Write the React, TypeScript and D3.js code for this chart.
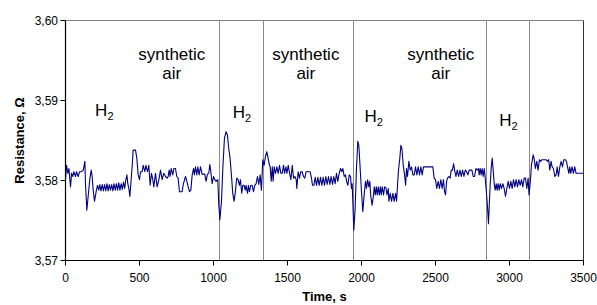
import React from "react";
import * as d3 from "d3";

const xTicks = [0, 500, 1000, 1500, 2000, 2500, 3000, 3500];
const yTicks = [3.57, 3.58, 3.59, 3.6];
const phaseBoundaries = [1038, 1336, 1942, 2840, 3135];
const airLabelTimes = [718, 1624, 2536];
const h2LabelTimes = [200, 1130, 2020, 2930];
const h2LabelBaselines = [116, 118, 122, 126];

const seriesA: [number, number][] = [
  [0, 3.5801], [7, 3.5819], [16, 3.5809], [23, 3.5815], [34, 3.5792], [41, 3.5809], [50, 3.5805], [56, 3.5811],
  [68, 3.5805], [74, 3.5811], [86, 3.5805], [95, 3.5811], [108, 3.5811], [120, 3.5813], [131, 3.5824], [135, 3.5796],
  [144, 3.5763], [153, 3.578], [165, 3.5803], [174, 3.5813], [180, 3.5805], [187, 3.5788], [196, 3.5774], [207, 3.5786],
  [216, 3.5794], [225, 3.5788], [232, 3.5795], [240, 3.5787], [248, 3.5795], [256, 3.5787], [264, 3.5795], [272, 3.5787],
  [280, 3.5796], [288, 3.5787], [296, 3.5795], [304, 3.5788], [312, 3.5795], [320, 3.5787], [328, 3.5796], [336, 3.5788],
  [344, 3.5796], [352, 3.5788], [360, 3.5797], [368, 3.5788], [376, 3.5796], [384, 3.5789], [392, 3.5798], [400, 3.579],
  [406, 3.5799], [415, 3.5807], [421, 3.5796], [428, 3.579], [435, 3.578], [445, 3.5805], [451, 3.5819], [457, 3.5838],
  [473, 3.5838], [482, 3.5828], [491, 3.5807], [500, 3.5801], [507, 3.5811], [518, 3.5811], [525, 3.5819], [536, 3.5811],
  [543, 3.5819], [554, 3.5811], [563, 3.5819], [572, 3.5794], [581, 3.5809], [590, 3.5801], [597, 3.5792], [608, 3.5809],
  [619, 3.5792], [631, 3.5801], [642, 3.5813], [653, 3.5801], [664, 3.5809], [676, 3.5805],
];

const seriesB: [number, number][] = [
  [687, 3.5803], [694, 3.5805], [700, 3.5813], [707, 3.5805], [714, 3.5815], [725, 3.5807], [732, 3.5815], [743, 3.5815],
  [752, 3.5805], [761, 3.5803], [770, 3.5786], [781, 3.5786], [788, 3.5786], [797, 3.5796], [811, 3.5805], [820, 3.5799],
  [829, 3.5792], [838, 3.5786], [847, 3.5788], [856, 3.5807], [865, 3.5815], [871, 3.5807], [878, 3.5817], [887, 3.5807],
  [894, 3.5817], [903, 3.5807], [912, 3.5817], [923, 3.5808], [932, 3.5808], [941, 3.5808], [950, 3.5799], [959, 3.5808],
  [968, 3.5809], [975, 3.582], [982, 3.5811], [991, 3.5796], [1000, 3.5805], [1009, 3.5801], [1018, 3.5799], [1029, 3.5801],
  [1036, 3.5769], [1043, 3.5751], [1054, 3.5774], [1063, 3.5815], [1074, 3.5853], [1085, 3.5861], [1094, 3.5857], [1103, 3.584],
  [1112, 3.5828], [1121, 3.5807], [1130, 3.5784], [1139, 3.5774], [1148, 3.5786], [1157, 3.5803], [1166, 3.5801], [1175, 3.5794],
  [1182, 3.5801], [1191, 3.5784], [1198, 3.5794], [1207, 3.5794], [1214, 3.5788], [1220, 3.5794], [1230, 3.5784], [1236, 3.5794],
  [1243, 3.5786], [1252, 3.5794], [1261, 3.5794], [1270, 3.5786], [1279, 3.5794], [1288, 3.5796], [1297, 3.5805], [1306, 3.5795],
  [1315, 3.5807], [1324, 3.5788], [1333, 3.5826], [1342, 3.5819], [1351, 3.583], [1360, 3.5836], [1369, 3.5828], [1378, 3.5819],
];

const seriesC: [number, number][] = [
  [1383, 3.5817], [1390, 3.5799], [1397, 3.5817], [1403, 3.5799], [1410, 3.5817], [1419, 3.5809], [1428, 3.5817], [1437, 3.5809],
  [1446, 3.5819], [1455, 3.5809], [1464, 3.5809], [1473, 3.5819], [1480, 3.5809], [1489, 3.5817], [1496, 3.5809], [1505, 3.5819],
  [1514, 3.5809], [1523, 3.5801], [1532, 3.5819], [1541, 3.5803], [1550, 3.5805], [1559, 3.5801], [1563, 3.579], [1572, 3.5811],
  [1581, 3.5803], [1590, 3.5811], [1599, 3.5811], [1608, 3.5805], [1617, 3.5803], [1626, 3.5811], [1635, 3.5811], [1644, 3.5811],
  [1653, 3.5811], [1662, 3.5803], [1669, 3.5794], [1678, 3.5794], [1687, 3.5804], [1696, 3.5794], [1705, 3.5804], [1714, 3.5794],
  [1723, 3.5804], [1732, 3.5794], [1741, 3.5804], [1750, 3.5794], [1759, 3.5805], [1768, 3.5795], [1777, 3.5805], [1786, 3.5795],
  [1795, 3.5805], [1804, 3.5795], [1813, 3.5805], [1822, 3.5796], [1831, 3.5809], [1840, 3.5799], [1849, 3.5809], [1858, 3.5815],
  [1867, 3.5811], [1874, 3.5815], [1883, 3.5805], [1892, 3.5807], [1899, 3.5799], [1908, 3.5794], [1917, 3.5807], [1926, 3.5805],
  [1932, 3.579], [1937, 3.5796], [1948, 3.5738], [1957, 3.5765], [1966, 3.5815], [1975, 3.5849], [1982, 3.5844], [1991, 3.5815],
  [2000, 3.5786], [2009, 3.5761], [2018, 3.5782], [2027, 3.5799], [2034, 3.579], [2041, 3.5801], [2050, 3.5792], [2056, 3.5799],
  [2063, 3.578], [2072, 3.5769], [2081, 3.5782],
];

const seriesD: [number, number][] = [
  [2086, 3.5792], [2093, 3.5782], [2100, 3.5792], [2106, 3.5782], [2113, 3.5792], [2120, 3.5782], [2127, 3.5792], [2133, 3.5782],
  [2140, 3.5792], [2149, 3.5782], [2156, 3.5792], [2165, 3.5791], [2172, 3.5782], [2181, 3.579], [2185, 3.5774], [2194, 3.5784],
  [2203, 3.5774], [2212, 3.5784], [2221, 3.5774], [2230, 3.5784], [2237, 3.5774], [2244, 3.5796], [2250, 3.5813], [2259, 3.5828],
  [2266, 3.5844], [2273, 3.584], [2282, 3.5819], [2291, 3.5807], [2298, 3.5794], [2304, 3.5815], [2311, 3.5805], [2320, 3.5824],
  [2329, 3.5813], [2338, 3.5817], [2347, 3.5807], [2356, 3.5807], [2365, 3.5817], [2374, 3.5807], [2383, 3.5817], [2392, 3.5807],
  [2401, 3.5817], [2410, 3.5807], [2419, 3.5817], [2428, 3.5817], [2437, 3.5817], [2446, 3.5817], [2455, 3.5817], [2464, 3.5817],
  [2473, 3.5817], [2482, 3.5817], [2491, 3.5803], [2500, 3.5801], [2509, 3.579], [2518, 3.5799], [2527, 3.579], [2536, 3.5801],
  [2545, 3.579], [2554, 3.5801], [2561, 3.5786], [2568, 3.5782], [2575, 3.5799], [2581, 3.5803], [2590, 3.5805], [2599, 3.5803],
  [2606, 3.5813], [2615, 3.5813], [2622, 3.5821], [2629, 3.5813], [2638, 3.5805], [2647, 3.5813], [2656, 3.5805], [2665, 3.5813],
  [2674, 3.5805], [2683, 3.5813], [2692, 3.5805], [2701, 3.5813], [2710, 3.5811], [2719, 3.5807], [2728, 3.5813], [2737, 3.5813],
  [2746, 3.5813], [2755, 3.5805], [2764, 3.5805], [2773, 3.5815], [2782, 3.5813], [2791, 3.5815],
];

const seriesE: [number, number][] = [
  [2795, 3.5807], [2802, 3.5815], [2808, 3.5807], [2815, 3.5815], [2822, 3.5805], [2829, 3.5815], [2835, 3.5805], [2842, 3.579],
  [2851, 3.5768], [2858, 3.5746], [2867, 3.5785], [2876, 3.5815], [2883, 3.5828], [2890, 3.5812], [2897, 3.5795], [2903, 3.5788],
  [2910, 3.5796], [2916, 3.5788], [2923, 3.5796], [2930, 3.5788], [2937, 3.5796], [2946, 3.579], [2955, 3.5796], [2964, 3.579],
  [2973, 3.578], [2982, 3.579], [2991, 3.5799], [3000, 3.579], [3009, 3.5799], [3018, 3.579], [3027, 3.5801], [3036, 3.5792],
  [3045, 3.5801], [3054, 3.5792], [3063, 3.5801], [3072, 3.5794], [3081, 3.5801], [3090, 3.5792], [3099, 3.5803], [3108, 3.5803],
  [3117, 3.579], [3126, 3.5803], [3132, 3.5782], [3142, 3.5801], [3148, 3.5819], [3160, 3.5832], [3166, 3.5828], [3175, 3.5815],
  [3184, 3.5824], [3193, 3.5813], [3202, 3.5826], [3211, 3.5824], [3220, 3.5826], [3229, 3.5826], [3238, 3.5826], [3247, 3.5826],
  [3256, 3.5824], [3265, 3.5826], [3272, 3.5813], [3281, 3.5824], [3288, 3.5817], [3297, 3.5815], [3306, 3.5805], [3315, 3.5807],
  [3322, 3.5817], [3331, 3.5805], [3340, 3.5817], [3349, 3.5824], [3358, 3.5817], [3367, 3.5826], [3376, 3.5826], [3385, 3.5824],
  [3392, 3.5817], [3401, 3.5809], [3407, 3.5817], [3414, 3.5809], [3423, 3.5817], [3432, 3.5809], [3441, 3.5817], [3450, 3.5809],
  [3459, 3.5809], [3468, 3.5809], [3477, 3.5809], [3486, 3.5809], [3500, 3.5809],
];

const series = [...seriesA, ...seriesB, ...seriesC, ...seriesD, ...seriesE];

const W = 597;
const H = 305;
const left = 65.5;
const right = 583.5;
const top = 20.5;
const bottom = 260.5;
const FONT = "'Liberation Sans', Arial, Helvetica, sans-serif";

export default function App() {
  const x = d3.scaleLinear().domain([0, 3500]).range([left, right]);
  const y = d3.scaleLinear().domain([3.57, 3.6]).range([bottom, top]);
  const line = d3
    .line<[number, number]>()
    .x((d) => x(d[0]))
    .y((d) => y(d[1]));
  const fmt = (v: number) => d3.format(".2f")(v).replace(".", ",");

  return (
    <svg
      width={W}
      height={H}
      style={{ position: "fixed", left: 0, top: 0, background: "#fff" }}
      fontFamily={FONT}
    >
      <rect x={0} y={0} width={W} height={H} fill="#fff" />
      <line x1={left} x2={right} y1={top} y2={top} stroke="#808080" strokeWidth={1} />
      <line x1={right} x2={right} y1={top} y2={bottom} stroke="#333" strokeWidth={1} />
      {phaseBoundaries.map((t) => (
        <line key={t} x1={Math.round(x(t)) + 0.5} x2={Math.round(x(t)) + 0.5} y1={top} y2={bottom} stroke="#8a8a8a" strokeWidth={1} />
      ))}
      <path d={line(series) || ""} fill="none" stroke="#000080" strokeWidth={1.1} strokeLinejoin="round" />
      <line x1={left} x2={left} y1={top} y2={bottom} stroke="#000" strokeWidth={1.2} />
      <line x1={left} x2={right} y1={bottom} y2={bottom} stroke="#000" strokeWidth={1.2} />
      {yTicks.map((v) => (
        <g key={v}>
          <line x1={left - 5} x2={left} y1={y(v)} y2={y(v)} stroke="#000" />
          <text x={58} y={y(v)} dy="0.35em" textAnchor="end" fontSize={12} fill="#000">
            {fmt(v)}
          </text>
        </g>
      ))}
      {xTicks.map((v) => (
        <g key={v}>
          <line x1={x(v)} x2={x(v)} y1={bottom} y2={bottom + 5} stroke="#000" />
          <text x={x(v)} y={282} textAnchor="middle" fontSize={12} fill="#000">
            {v}
          </text>
        </g>
      ))}
      {airLabelTimes.map((t) => (
        <g key={t}>
          <text x={x(t)} y={60} textAnchor="middle" fontSize={17} fill="#000">synthetic</text>
          <text x={x(t)} y={79} textAnchor="middle" fontSize={17} fill="#000">air</text>
        </g>
      ))}
      {h2LabelTimes.map((t, i) => (
        <text key={t} x={x(t)} y={h2LabelBaselines[i]} fontSize={17} fill="#000">
          H<tspan fontSize={11} dy={4}>2</tspan>
        </text>
      ))}
      <text x={x(1750)} y={301} textAnchor="middle" fontSize={13} fontWeight="bold" fill="#000">
        Time, s
      </text>
      <text
        transform={`translate(24, ${(top + bottom) / 2}) rotate(-90)`}
        textAnchor="middle"
        fontSize={13}
        fontWeight="bold"
        fill="#000"
      >
        Resistance, Ω
      </text>
    </svg>
  );
}
